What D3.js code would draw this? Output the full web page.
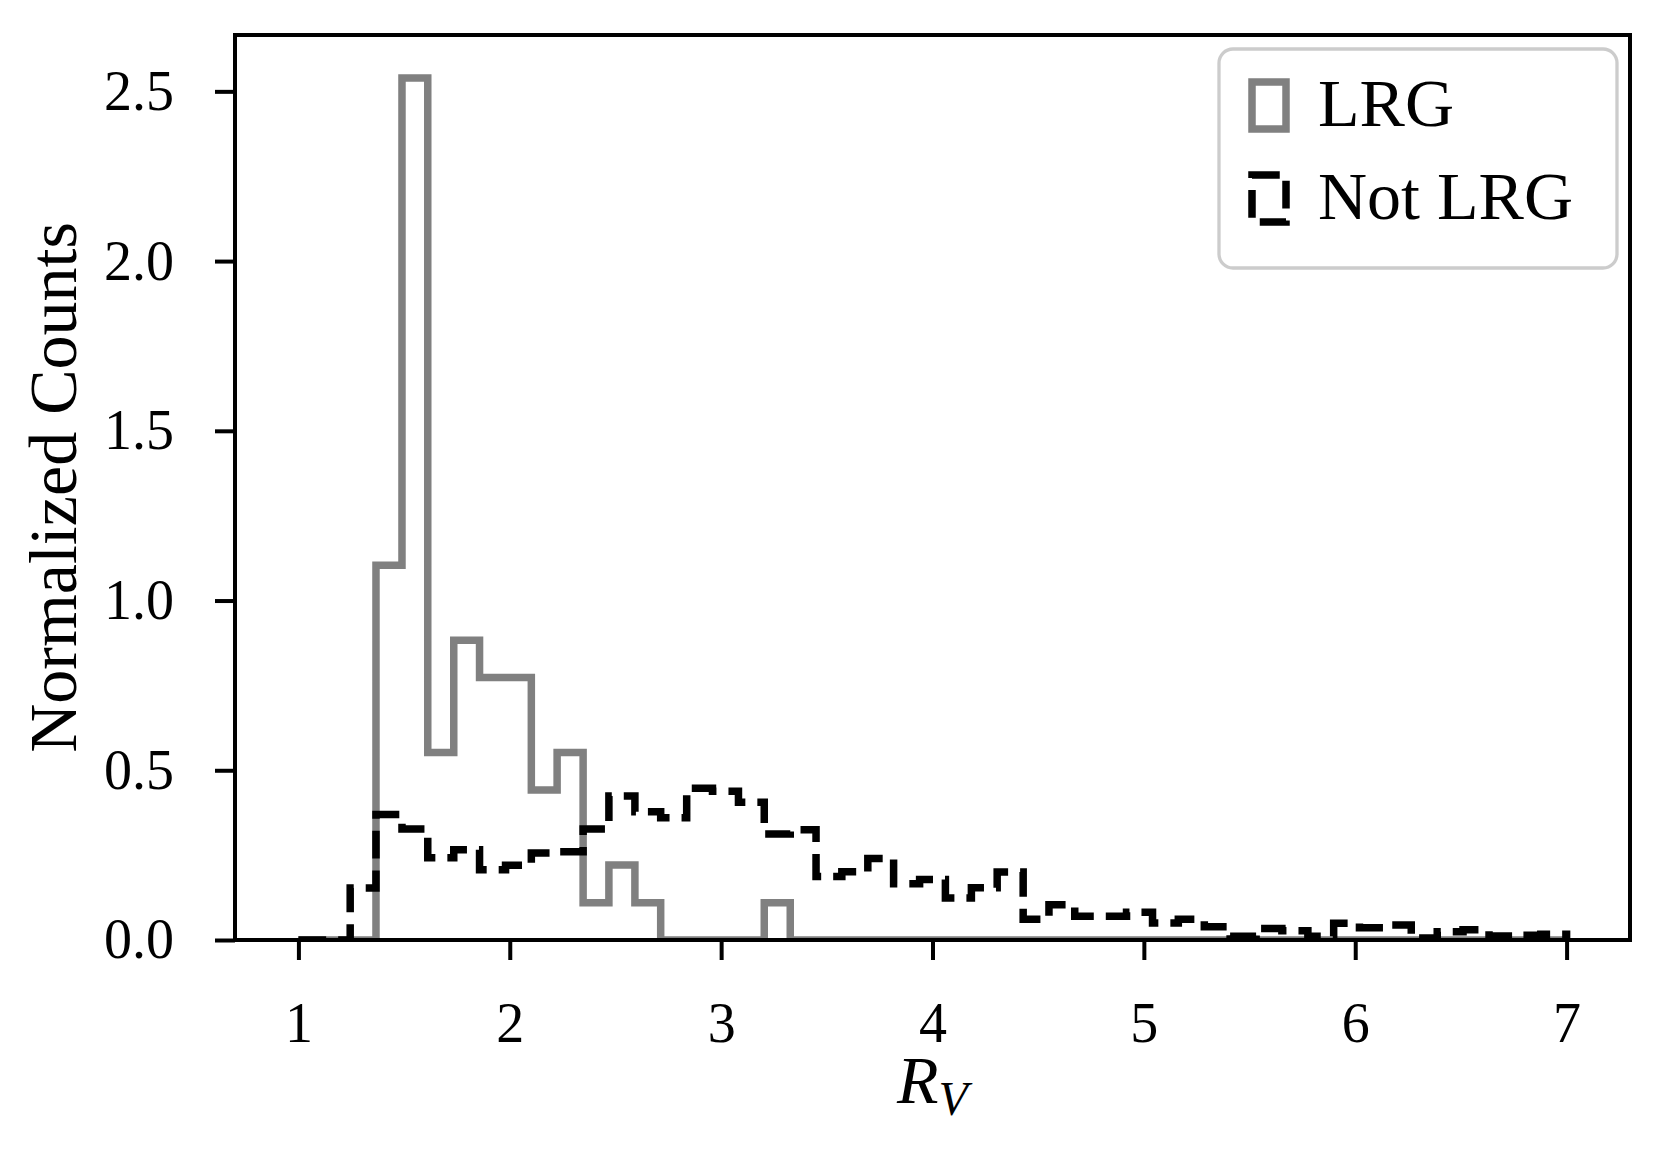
<!DOCTYPE html>
<html>
<head>
<meta charset="utf-8">
<script src="https://cdn.jsdelivr.net/npm/d3@7"></script>
<style>
	body { margin: 0; background: #fff; }
	text { font-family: "Liberation Serif", "DejaVu Serif", serif; fill: #000; }
</style>
</head>
<body>
<script>

// figure size
var width = 1667,
	height = 1157;

// plot area
var margin = {left: 235, right: 1630, top: 35, bottom: 940};

// histogram bin edges (49 bins between 1 and 7)
var binEdges = [1.000, 1.122, 1.245, 1.367, 1.490, 1.612, 1.735, 1.857, 1.980, 2.102,
	2.224, 2.347, 2.469, 2.592, 2.714, 2.837, 2.959, 3.082, 3.204, 3.327,
	3.449, 3.571, 3.694, 3.816, 3.939, 4.061, 4.184, 4.306, 4.429, 4.551,
	4.673, 4.796, 4.918, 5.041, 5.163, 5.286, 5.408, 5.531, 5.653, 5.776,
	5.898, 6.020, 6.143, 6.265, 6.388, 6.510, 6.633, 6.755, 6.878, 7.000];

// normalized counts per bin
var lrgCounts = [0, 0, 0, 1.104, 2.539, 0.552, 0.883, 0.773, 0.773, 0.442,
	0.552, 0.110, 0.221, 0.110, 0, 0, 0, 0, 0.110, 0,
	0, 0, 0, 0, 0, 0, 0, 0, 0, 0,
	0, 0, 0, 0, 0, 0, 0, 0, 0, 0,
	0, 0, 0, 0, 0, 0, 0, 0, 0];

var notLrgCounts = [0, 0, 0.153, 0.370, 0.327, 0.242, 0.266, 0.207, 0.220, 0.256,
	0.260, 0.327, 0.424, 0.378, 0.360, 0.447, 0.438, 0.406, 0.312, 0.325,
	0.187, 0.201, 0.240, 0.166, 0.178, 0.124, 0.154, 0.200, 0.061, 0.104,
	0.070, 0.070, 0.082, 0.050, 0.061, 0.039, 0.011, 0.034, 0.027, 0.011,
	0.049, 0.036, 0.044, 0.006, 0.024, 0.030, 0.012, 0.014, 0.017];

var xTicks = [1, 2, 3, 4, 5, 6, 7];
var yTicks = [0, 0.5, 1.0, 1.5, 2.0, 2.5];

var legendLabels = ['LRG', 'Not LRG'];

var x = d3.scaleLinear()
	.domain([0.7, 7.3])
	.range([margin.left, margin.right]);

var y = d3.scaleLinear()
	.domain([0, 2.666])
	.range([margin.bottom, margin.top]);

var svg = d3.select('body')
	.append('svg')
	.attr('width', width)
	.attr('height', height);

svg.append('rect')
	.attr('width', width)
	.attr('height', height)
	.attr('fill', '#fff');

svg.append('clipPath')
	.attr('id', 'plot-clip')
	.append('rect')
	.attr('x', margin.left)
	.attr('y', margin.top)
	.attr('width', margin.right - margin.left)
	.attr('height', margin.bottom - margin.top);

// turn bin values into step outline points
function stepPoints(counts) {
	var pts = [[binEdges[0], 0]];
	counts.forEach(function(v, i) {
		pts.push([binEdges[i], v]);
		pts.push([binEdges[i + 1], v]);
	});
	pts.push([binEdges[binEdges.length - 1], 0]);
	return pts;
}

var line = d3.line()
	.x(function(d) { return x(d[0]); })
	.y(function(d) { return y(d[1]); });

var hist = svg.append('g')
	.attr('clip-path', 'url(#plot-clip)');

hist.append('path')
	.attr('d', line(stepPoints(lrgCounts)))
	.attr('fill', 'none')
	.attr('stroke', '#808080')
	.attr('stroke-width', 7.5)
	.attr('stroke-linejoin', 'miter');

hist.append('path')
	.attr('d', line(stepPoints(notLrgCounts)))
	.attr('fill', 'none')
	.attr('stroke', '#000')
	.attr('stroke-width', 7.5)
	.attr('stroke-dasharray', '27.75,12')
	.attr('stroke-linejoin', 'miter');

// axes
var xAxis = svg.append('g')
	.attr('transform', 'translate(0,' + margin.bottom + ')')
	.call(d3.axisBottom(x).tickValues(xTicks).tickSize(20).tickPadding(42)
		.tickFormat(d3.format('d')));

var yAxis = svg.append('g')
	.attr('transform', 'translate(' + margin.left + ',0)')
	.call(d3.axisLeft(y).tickValues(yTicks).tickSize(20).tickPadding(41)
		.tickFormat(d3.format('.1f')));

[xAxis, yAxis].forEach(function(a) {
	a.select('.domain').remove();
	a.selectAll('line').attr('stroke', '#000').attr('stroke-width', 4);
	a.selectAll('text')
		.attr('font-size', 56)
		.attr('font-family', '"Liberation Serif", serif')
		.attr('fill', '#000');
});

// frame
svg.append('rect')
	.attr('x', margin.left)
	.attr('y', margin.top)
	.attr('width', margin.right - margin.left)
	.attr('height', margin.bottom - margin.top)
	.attr('fill', 'none')
	.attr('stroke', '#000')
	.attr('stroke-width', 4);

// axis labels
svg.append('text')
	.attr('transform', 'translate(76,' + (margin.top + margin.bottom) / 2 + ') rotate(-90)')
	.attr('text-anchor', 'middle')
	.attr('font-size', 68)
	.text('Normalized Counts');

var xlab = svg.append('text')
	.attr('x', (margin.left + margin.right) / 2)
	.attr('y', 1103)
	.attr('text-anchor', 'middle')
	.attr('font-size', 68)
	.attr('font-style', 'italic');
xlab.append('tspan').text('R');
xlab.append('tspan').attr('font-size', 48).attr('dy', 12).text('V');

// legend
var legend = svg.append('g');

legend.append('rect')
	.attr('x', 1219)
	.attr('y', 49)
	.attr('width', 398)
	.attr('height', 219)
	.attr('rx', 14)
	.attr('fill', '#fff')
	.attr('fill-opacity', 0.8)
	.attr('stroke', '#cccccc')
	.attr('stroke-width', 3.3);

var legendStyles = [
	{stroke: '#808080', dash: null},
	{stroke: '#000', dash: '27.75,12'}
];

legendLabels.forEach(function(label, i) {
	var top = 82 + i * 93;
	legend.append('rect')
		.attr('x', 1252)
		.attr('y', top)
		.attr('width', 34)
		.attr('height', 47)
		.attr('fill', 'none')
		.attr('stroke', legendStyles[i].stroke)
		.attr('stroke-width', 7.5)
		.attr('stroke-dasharray', legendStyles[i].dash);
	legend.append('text')
		.attr('x', 1318)
		.attr('y', top + 44)
		.attr('font-size', 68)
		.text(label);
});

</script>
</body>
</html>
